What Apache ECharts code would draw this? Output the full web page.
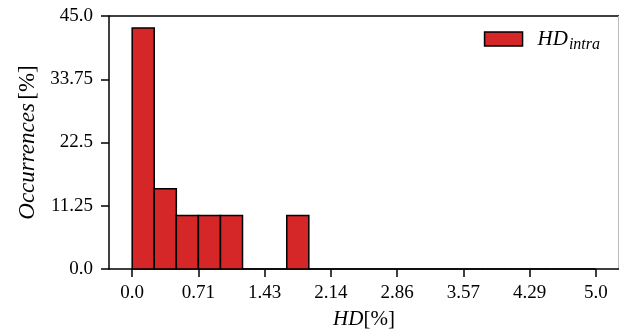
<!DOCTYPE html>
<html>
<head>
<meta charset="utf-8">
<script src="https://cdn.jsdelivr.net/npm/echarts@6/dist/echarts.min.js"></script>
<style>
  html, body { margin: 0; padding: 0; background: #fff; }
  #chart { width: 619px; height: 334px; }
</style>
</head>
<body>
<div id="chart"></div>
<script>
// bin edges of the histogram (21 bins over 0..5)
var binEdges = [0, 0.238, 0.476, 0.714, 0.952, 1.190, 1.429, 1.667, 1.905, 2.143, 2.381,
  2.619, 2.857, 3.095, 3.333, 3.571, 3.810, 4.048, 4.286, 4.524, 4.762, 5.0];
// occurrences in % for each bin
var occurrences = [42.86, 14.29, 9.52, 9.52, 9.52, 0, 0, 9.52, 0, 0, 0,
  0, 0, 0, 0, 0, 0, 0, 0, 0, 0];
var xTicks = [0, 0.714, 1.429, 2.143, 2.857, 3.571, 4.286, 5.0];
var xTickLabels = ['0.0', '0.71', '1.43', '2.14', '2.86', '3.57', '4.29', '5.0'];
var yTickLabels = ['0.0', '11.25', '22.5', '33.75', '45.0'];
var seriesName = 'HD_intra';

var serif = '"Liberation Serif", "DejaVu Serif", serif';
var red = '#d62728';

var data = [];
for (var i = 0; i < occurrences.length; i++) {
  data.push([binEdges[i], binEdges[i + 1], occurrences[i]]);
}

var chart = echarts.init(document.getElementById('chart'), null, { renderer: 'canvas' });

chart.setOption({
  animation: false,
  grid: { left: 109, right: 0, top: 16, bottom: 65, outerBoundsMode: 'none', containLabel: false },
  legend: {
    right: 14,
    top: 24,
    itemWidth: 38,
    itemHeight: 14,
    icon: 'rect',
    data: [seriesName],
    itemStyle: { color: red, borderColor: '#000', borderWidth: 1.5 },
    formatter: function () { return '{i|HD}{s|intra}'; },
    textStyle: {
      rich: {
        i: { fontFamily: serif, fontStyle: 'italic', fontSize: 21, lineHeight: 20, verticalAlign: 'top', color: '#000', padding: [0, 0, 0, 10] },
        s: { fontFamily: serif, fontStyle: 'italic', fontSize: 16, lineHeight: 15, verticalAlign: 'top', color: '#000', padding: [8, 0, 0, 1] }
      }
    }
  },
  xAxis: {
    type: 'value',
    min: -0.25,
    max: 5.25,
    splitLine: { show: false },
    axisLine: { show: true, onZero: false, lineStyle: { color: '#000', width: 1.5 } },
    axisTick: { show: true, customValues: xTicks, length: 8, lineStyle: { color: '#000', width: 1.5 } },
    axisLabel: {
      customValues: xTicks,
      margin: 15,
      fontFamily: serif,
      fontSize: 19,
      color: '#000',
      formatter: function (v) {
        var k = xTicks.indexOf(v);
        return k >= 0 ? xTickLabels[k] : '';
      }
    },
    name: '{i|HD}{n|[%]}',
    nameLocation: 'middle',
    nameGap: 40,
    nameTextStyle: {
      rich: {
        i: { fontFamily: serif, fontStyle: 'italic', fontSize: 21, color: '#000' },
        n: { fontFamily: serif, fontSize: 21, color: '#000' }
      }
    }
  },
  yAxis: {
    type: 'value',
    min: 0,
    max: 45,
    interval: 11.25,
    splitLine: { show: false },
    axisLine: { show: true, onZero: false, lineStyle: { color: '#000', width: 1.5 } },
    axisTick: { show: true, length: 8, lineStyle: { color: '#000', width: 1.5 } },
    axisLabel: {
      margin: 16,
      fontFamily: serif,
      fontSize: 19,
      color: '#000',
      formatter: function (v) { return yTickLabels[Math.round(v / 11.25)]; }
    },
    name: '{i|Occurrences} {n|[%]}',
    nameLocation: 'middle',
    nameGap: 70,
    nameTextStyle: {
      rich: {
        i: { fontFamily: serif, fontStyle: 'italic', fontSize: 23, color: '#000' },
        n: { fontFamily: serif, fontSize: 23, color: '#000' }
      }
    }
  },
  series: [{
    name: seriesName,
    type: 'custom',
    itemStyle: { color: red, borderColor: '#000', borderWidth: 1.5 },
    encode: { x: [0, 1], y: 2 },
    data: data,
    renderItem: function (params, api) {
      var p0 = api.coord([api.value(0), api.value(2)]);
      var p1 = api.coord([api.value(1), 0]);
      return {
        type: 'rect',
        shape: { x: p0[0], y: p0[1], width: p1[0] - p0[0], height: p1[1] - p0[1] },
        style: { fill: red, stroke: '#000', lineWidth: 1.5 }
      };
    }
  }],
  graphic: [
    // top and right spines of the box
    { type: 'line', shape: { x1: 109, y1: 16, x2: 619, y2: 16 }, style: { stroke: '#000', lineWidth: 1.5 } },
    { type: 'line', shape: { x1: 618.5, y1: 16, x2: 618.5, y2: 269 }, style: { stroke: '#bbb', lineWidth: 1 } }
  ]
});
</script>
</body>
</html>
